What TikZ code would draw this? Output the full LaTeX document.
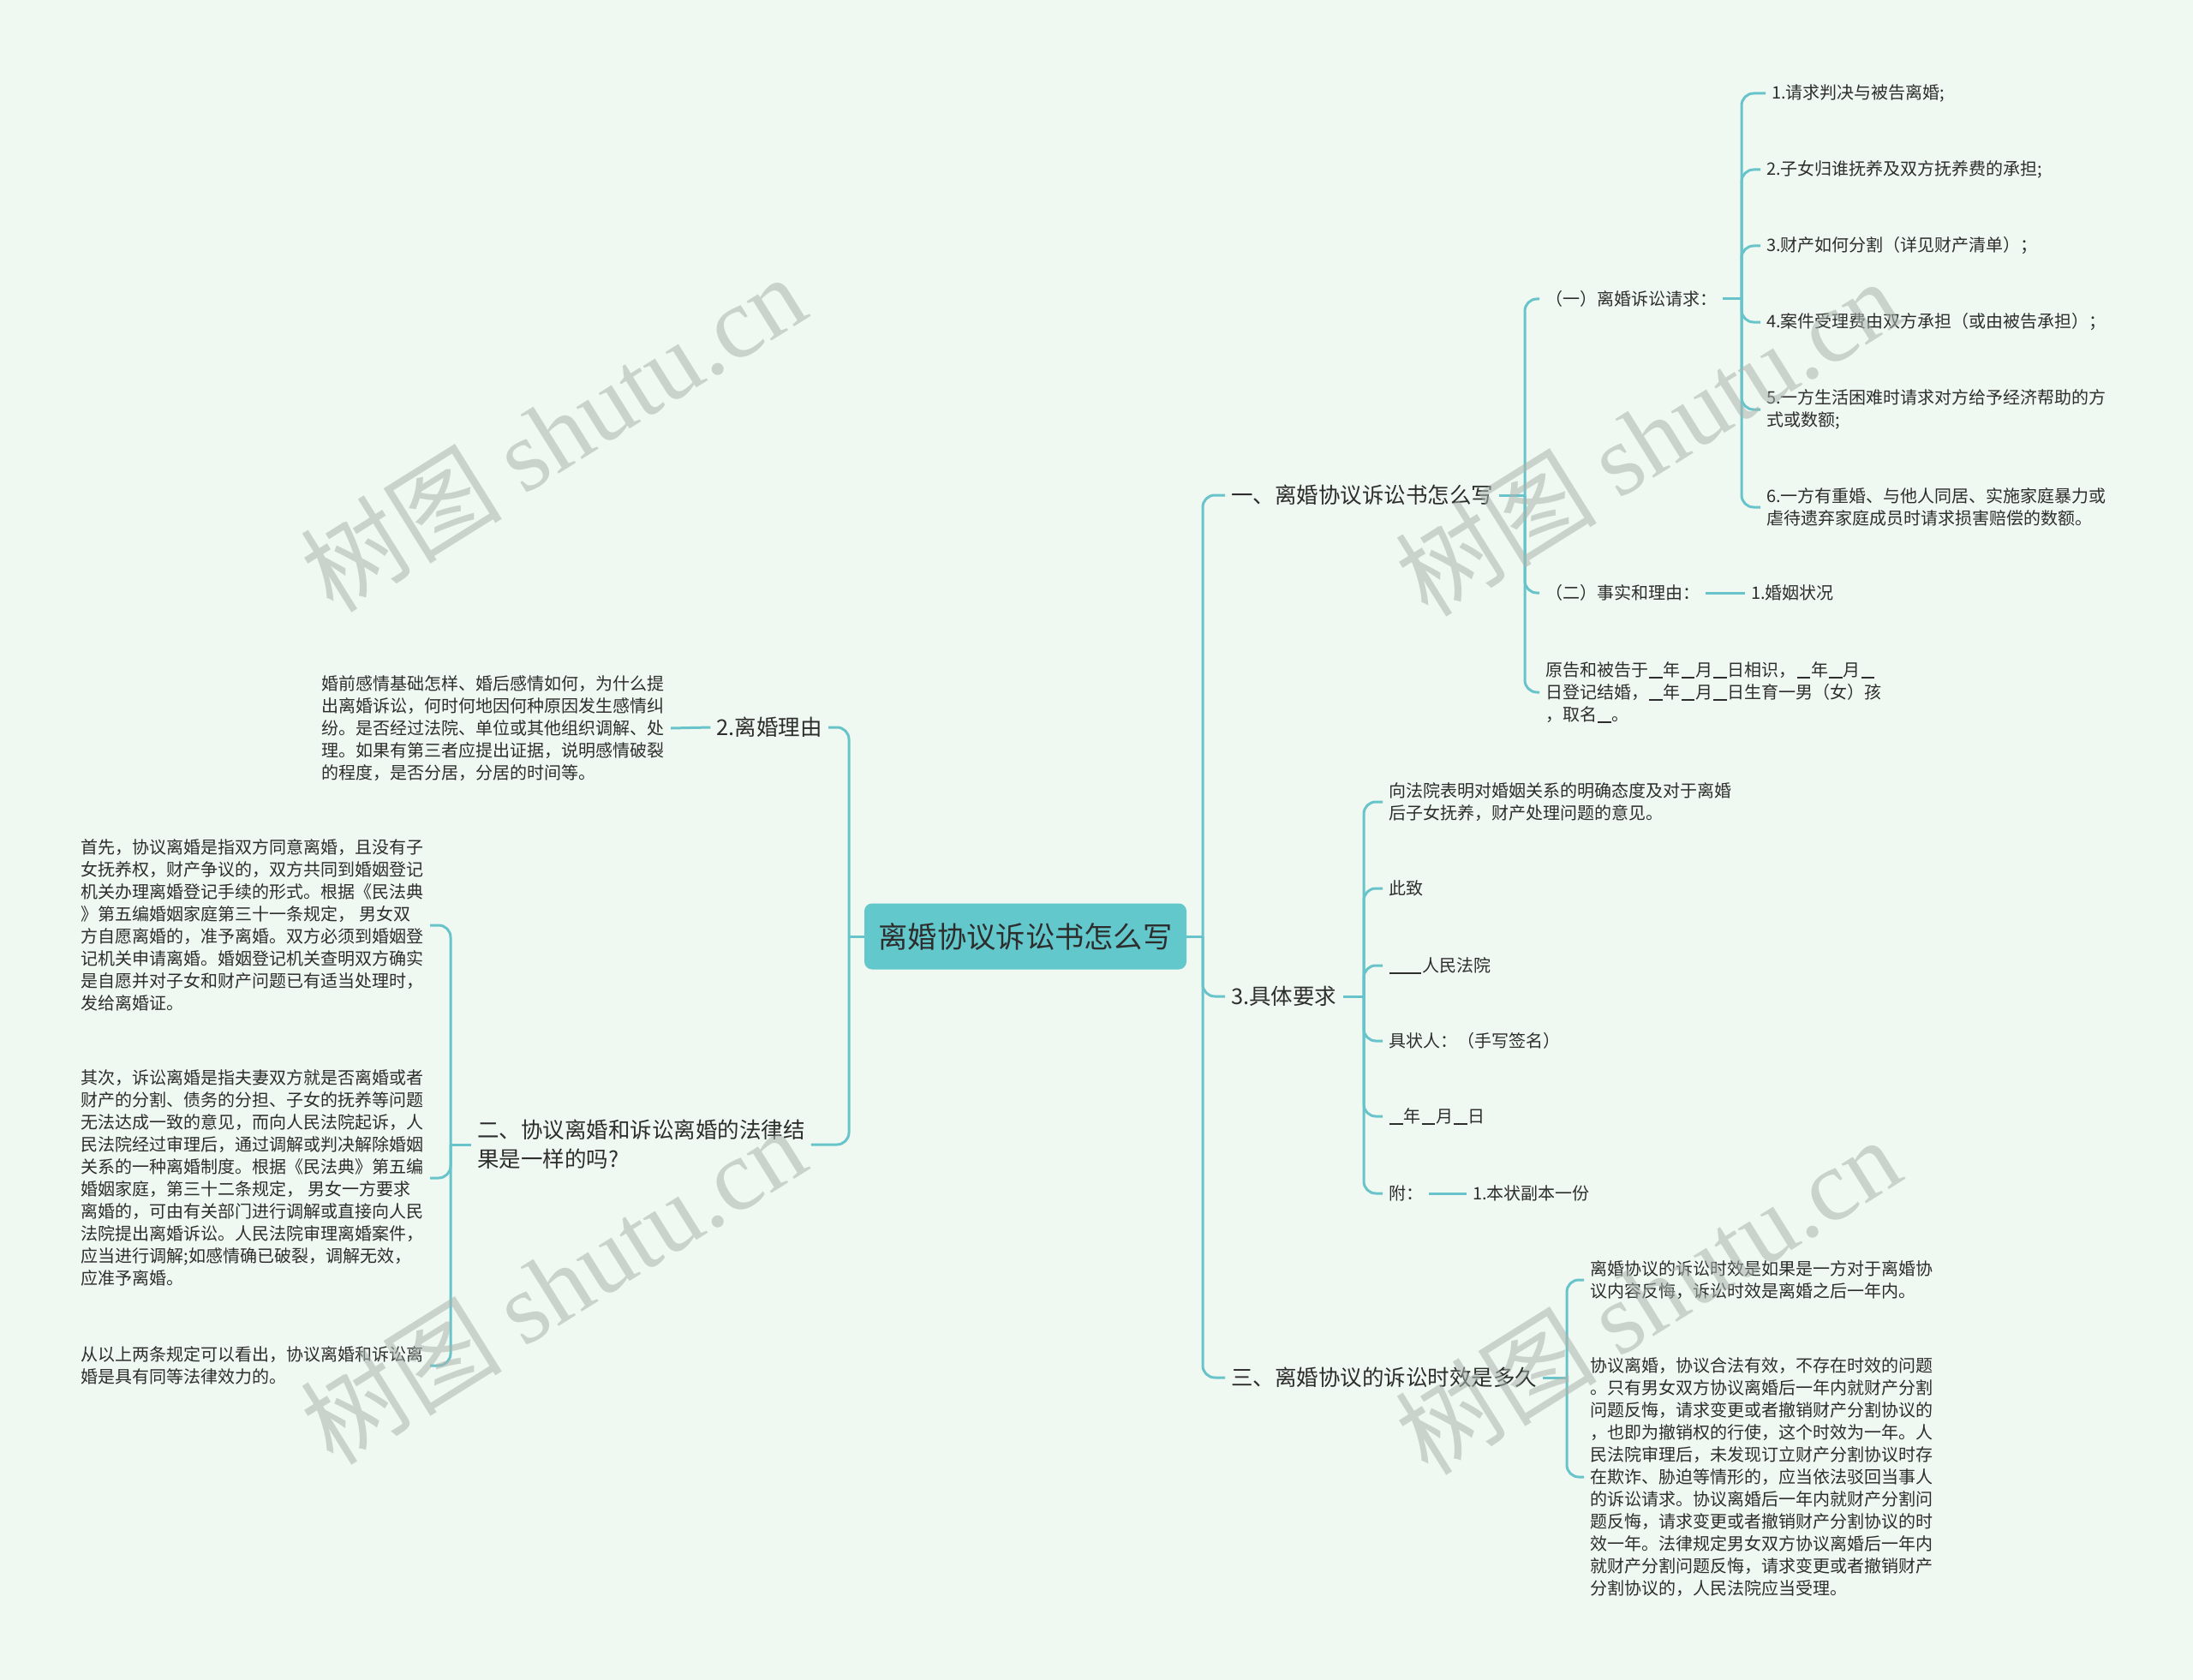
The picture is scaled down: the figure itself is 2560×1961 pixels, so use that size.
\documentclass[tikz,border=0pt]{standalone}
\usepackage{fontspec}
\setmainfont{Noto Sans CJK SC}
\newfontfamily\wmlatin{Liberation Serif}
\usetikzlibrary{calc}
\definecolor{bgc}{RGB}{240,249,241}
\definecolor{linec}{RGB}{104,196,202}
\definecolor{txtc}{RGB}{45,45,45}
\definecolor{rootc}{RGB}{99,200,204}
\definecolor{wmc}{RGB}{170,180,172}
\newcommand\us{\kern1pt\rule[-2.5pt]{15.5pt}{1.3pt}\kern1pt}
\newcommand\uss{\kern1pt\rule[-2.5pt]{37pt}{1.3pt}\kern1pt}
\tikzset{
  conn/.style={draw=linec, line width=3pt, rounded corners=14pt},
  leaf/.style={inner xsep=7pt, inner ysep=3pt, text=txtc, align=left, font=\fontsize{20}{26}\selectfont},
  lone/.style={inner xsep=7pt, inner ysep=3pt, text=txtc, align=left, font=\fontsize{25.5}{34}\selectfont},
  rootbox/.style={fill=rootc, rounded corners=9pt, inner sep=6pt, minimum width=376pt, minimum height=77pt, text=txtc, font=\fontsize{34.3}{40}\selectfont},
  wm/.style={text=wmc, opacity=0.55, rotate=32, font=\fontsize{118}{124}\selectfont}
}
\begin{document}
\begin{tikzpicture}[x=1pt,y=-1pt]
\fill[bgc] (0,0) rectangle (2560,1961);
\useasboundingbox (0,0) rectangle (2560,1961);

% root
\node[rootbox] (root) at (1197,1093) {离婚协议诉讼书怎么写};

% spine coordinates
\coordinate (sA) at (1404,0);
\coordinate (sB) at (991,0);
\coordinate (s1) at (1780,0);
\coordinate (s2) at (2033,0);
\coordinate (s3) at (1592,0);
\coordinate (s4) at (1829,0);
\coordinate (s5) at (526,0);

% level 1 right
\node[lone, anchor=west] (n1) at (1430,578) {一、离婚协议诉讼书怎么写};
\node[lone, anchor=west] (n3) at (1430,1163) {3.具体要求};
\node[lone, anchor=west] (n4) at (1430,1608) {三、离婚协议的诉讼时效是多久};
% level 1 left
\node[lone, anchor=east] (m2) at (967,849) {2.离婚理由};
\node[lone, anchor=west] (m1) at (550,1336) {二、协议离婚和诉讼离婚的法律结\\果是一样的吗?};

% under n1
\node[leaf, anchor=west] (a1) at (1797,349) {（一）离婚诉讼请求：};
\node[leaf, anchor=west] (a2) at (1797,692) {（二）事实和理由：};
\node[leaf, anchor=west] (a3) at (1797,808) {原告和被告于\us 年\us 月\us 日相识，\us 年\us 月\us\\日登记结婚，\us 年\us 月\us 日生育一男（女）孩\\，取名\us 。};
\node[leaf, anchor=west] (b1) at (2061,109) {1.请求判决与被告离婚;};
\node[leaf, anchor=west] (b2) at (2055,198) {2.子女归谁抚养及双方抚养费的承担;};
\node[leaf, anchor=west] (b3) at (2055,287) {3.财产如何分割（详见财产清单）；};
\node[leaf, anchor=west] (b4) at (2055,376) {4.案件受理费由双方承担（或由被告承担）；};
\node[leaf, anchor=west] (b5) at (2055,478) {5.一方生活困难时请求对方给予经济帮助的方\\式或数额;};
\node[leaf, anchor=west] (b6) at (2055,592) {6.一方有重婚、与他人同居、实施家庭暴力或\\虐待遗弃家庭成员时请求损害赔偿的数额。};
\node[leaf, anchor=west] (c1) at (2037,692) {1.婚姻状况};

% under n3
\node[leaf, anchor=west] (d1) at (1614,936) {向法院表明对婚姻关系的明确态度及对于离婚\\后子女抚养，财产处理问题的意见。};
\node[leaf, anchor=west] (d2) at (1614,1037) {此致};
\node[leaf, anchor=west] (d3) at (1614,1127) {\uss 人民法院};
\node[leaf, anchor=west] (d4) at (1614,1215) {具状人：（手写签名）};
\node[leaf, anchor=west] (d5) at (1614,1303) {\us 年\us 月\us 日};
\node[leaf, anchor=west] (d6) at (1614,1393) {附：};
\node[leaf, anchor=west] (e1) at (1712,1393) {1.本状副本一份};

% under n4
\node[leaf, anchor=west] (f1) at (1849,1494) {离婚协议的诉讼时效是如果是一方对于离婚协\\议内容反悔，诉讼时效是离婚之后一年内。};
\node[leaf, anchor=west] (f2) at (1849,1724) {协议离婚，协议合法有效，不存在时效的问题\\。只有男女双方协议离婚后一年内就财产分割\\问题反悔，请求变更或者撤销财产分割协议的\\，也即为撤销权的行使，这个时效为一年。人\\民法院审理后，未发现订立财产分割协议时存\\在欺诈、胁迫等情形的，应当依法驳回当事人\\的诉讼请求。协议离婚后一年内就财产分割问\\题反悔，请求变更或者撤销财产分割协议的时\\效一年。法律规定男女双方协议离婚后一年内\\就财产分割问题反悔，请求变更或者撤销财产\\分割协议的，人民法院应当受理。};

% left side
\node[leaf, anchor=east] (g1) at (783,850) {婚前感情基础怎样、婚后感情如何，为什么提\\出离婚诉讼，何时何地因何种原因发生感情纠\\纷。是否经过法院、单位或其他组织调解、处\\理。如果有第三者应提出证据，说明感情破裂\\的程度，是否分居，分居的时间等。};
\node[leaf, anchor=east] (h1) at (502,1080) {首先，协议离婚是指双方同意离婚，且没有子\\女抚养权，财产争议的，双方共同到婚姻登记\\机关办理离婚登记手续的形式。根据《民法典\\》第五编婚姻家庭第三十一条规定， 男女双\\方自愿离婚的，准予离婚。双方必须到婚姻登\\记机关申请离婚。婚姻登记机关查明双方确实\\是自愿并对子女和财产问题已有适当处理时，\\发给离婚证。};
\node[leaf, anchor=east] (h2) at (502,1375) {其次，诉讼离婚是指夫妻双方就是否离婚或者\\财产的分割、债务的分担、子女的抚养等问题\\无法达成一致的意见，而向人民法院起诉，人\\民法院经过审理后，通过调解或判决解除婚姻\\关系的一种离婚制度。根据《民法典》第五编\\婚姻家庭，第三十二条规定， 男女一方要求\\离婚的，可由有关部门进行调解或直接向人民\\法院提出离婚诉讼。人民法院审理离婚案件，\\应当进行调解;如感情确已破裂，调解无效，\\应准予离婚。};
\node[leaf, anchor=east] (h3) at (502,1594) {从以上两条规定可以看出，协议离婚和诉讼离\\婚是具有同等法律效力的。};

% connectors: root -> right
\draw[conn] (root.east) -- (root.east -| sA);
\foreach \c in {n1,n3,n4}{
  \draw[conn] (root.east -| sA) -- (\c.west -| sA) -- (\c.west);
}
% root -> left
\draw[conn] (root.west) -- (root.west -| sB);
\foreach \c in {m2,m1}{
  \draw[conn] (root.west -| sB) -- (\c.east -| sB) -- (\c.east);
}
% n1 children
\draw[conn] (n1.east) -- (n1.east -| s1);
\foreach \c in {a1,a2,a3}{
  \draw[conn] (n1.east -| s1) -- (\c.west -| s1) -- (\c.west);
}
% a1 children
\draw[conn] (a1.east) -- (a1.east -| s2);
\foreach \c in {b1,b2,b3,b4,b5,b6}{
  \draw[conn] (a1.east -| s2) -- (\c.west -| s2) -- (\c.west);
}
\draw[conn] (a2.east) -- (c1.west);
% n3 children
\draw[conn] (n3.east) -- (n3.east -| s3);
\foreach \c in {d1,d2,d3,d4,d5,d6}{
  \draw[conn] (n3.east -| s3) -- (\c.west -| s3) -- (\c.west);
}
\draw[conn] (d6.east) -- (e1.west);
% n4 children
\draw[conn] (n4.east) -- (n4.east -| s4);
\foreach \c in {f1,f2}{
  \draw[conn] (n4.east -| s4) -- (\c.west -| s4) -- (\c.west);
}
% left children
\draw[conn] (m2.west) -- (g1.east);
\draw[conn] (m1.west) -- (m1.west -| s5);
\foreach \c in {h1,h2,h3}{
  \draw[conn] (m1.west -| s5) -- (\c.east -| s5) -- (\c.east);
}

% watermarks
\node[wm] (w1) at (645,505) {树图 {\wmlatin shutu.cn}};
\node[wm] (w2) at (1923,510) {树图 {\wmlatin shutu.cn}};
\node[wm] (w3) at (645,1500) {树图 {\wmlatin shutu.cn}};
\node[wm] (w4) at (1923,1512) {树图 {\wmlatin shutu.cn}};
\end{tikzpicture}
\end{document}
